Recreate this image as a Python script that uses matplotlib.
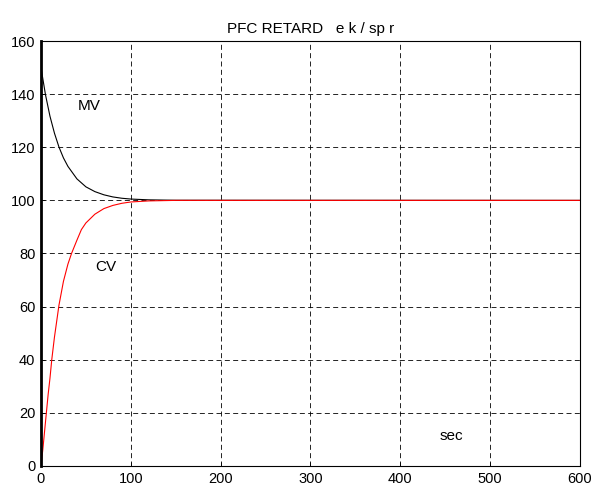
import matplotlib
matplotlib.use('Agg')
import matplotlib.pyplot as plt

plt.rcParams['font.family'] = ['Liberation Sans', 'DejaVu Sans']
plt.rcParams['font.size'] = 10

# values
t_mv = [0, 5, 10, 15, 20, 25, 30, 40, 50, 60, 70, 80, 90, 100, 120, 150, 600]
mv = [150, 139.8, 131.7, 125.3, 120.1, 116.0, 112.8, 108.1, 105.1, 103.3,
      102.1, 101.3, 100.8, 100.5, 100.2, 100.05, 100]

t_cv = [0, 2, 5, 8, 10, 12, 15, 20, 25, 30, 34, 40, 45, 50, 60, 70, 80, 90,
        100, 120, 150, 600]
cv = [0, 6, 16.5, 27, 33, 40, 48.5, 60.5, 69.5, 76, 80, 85, 89, 91.5, 94.8,
      96.9, 98.1, 98.9, 99.4, 99.8, 100, 100]

fig = plt.figure(figsize=(5.93, 4.86), dpi=100)
ax = fig.add_axes([0.0691, 0.0412, 0.9089, 0.8744])

ax.plot(t_mv, mv, color='black', linewidth=0.8)
ax.plot(t_cv, cv, color='red', linewidth=0.8)

ax.set_xlim(0, 600)
ax.set_ylim(0, 160)
ax.set_xticks(range(0, 601, 100))
ax.set_yticks(range(0, 161, 20))
ax.grid(True, color='black', linestyle=(0, (6, 4)), linewidth=0.6)
ax.tick_params(direction='in', length=3, width=0.6, pad=4, labelsize=10.5)

for s in ax.spines.values():
    s.set_linewidth(0.8)
ax.spines['left'].set_linewidth(2)

ax.set_title('PFC RETARD   e k / sp r', fontsize=11, pad=6)
ax.text(54, 135.7, 'MV', fontsize=11, ha='center', va='center')
ax.text(72.7, 75, 'CV', fontsize=11, ha='center', va='center')
ax.text(456.5, 11.2, 'sec', fontsize=11, ha='center', va='center')

fig.savefig('out.png', dpi=100)
